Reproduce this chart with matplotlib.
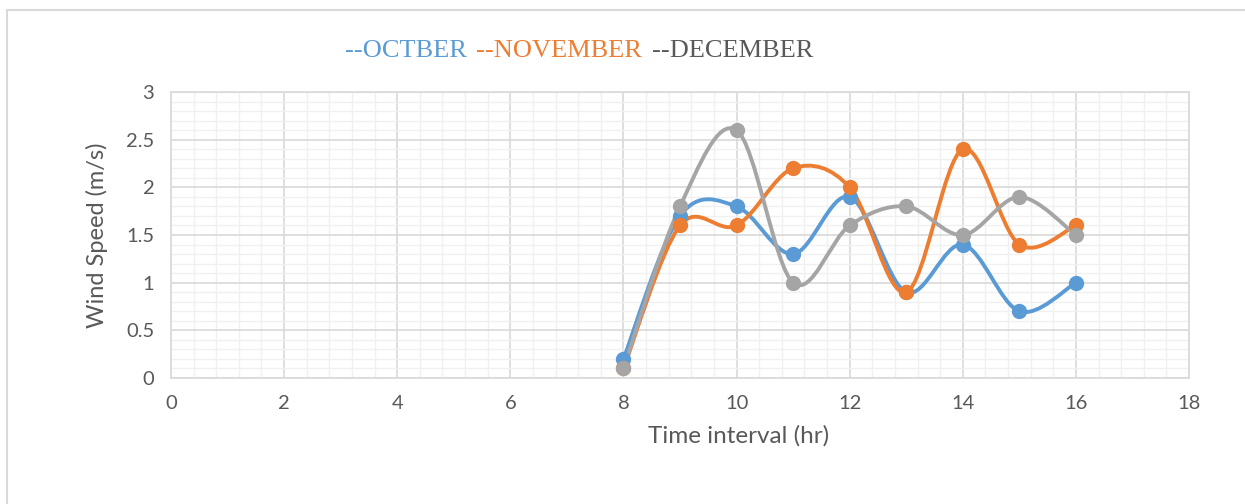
import matplotlib.pyplot as plt
import matplotlib.patches as mpatches
from matplotlib.path import Path
from matplotlib.ticker import MultipleLocator

hours = [8, 9, 10, 11, 12, 13, 14, 15, 16]
october = [0.2, 1.7, 1.8, 1.3, 1.9, 0.9, 1.4, 0.7, 1.0]
november = [0.1, 1.6, 1.6, 2.2, 2.0, 0.9, 2.4, 1.4, 1.6]
december = [0.1, 1.8, 2.6, 1.0, 1.6, 1.8, 1.5, 1.9, 1.5]

series = [
    ("--OCTBER ", october, "#5b9bd5", "#5b9bd5"),
    ("--NOVEMBER ", november, "#ed7d31", "#ed7d31"),
    ("--DECEMBER", december, "#a5a5a5", "#595959"),
]


def smooth_path(xs, ys):
    # Excel-like smoothed line: cubic Bezier segments, Catmull-Rom tangents
    verts = [(xs[0], ys[0])]
    codes = [Path.MOVETO]
    n = len(xs)
    for i in range(n - 1):
        x0, y0 = xs[max(i - 1, 0)], ys[max(i - 1, 0)]
        x1, y1 = xs[i], ys[i]
        x2, y2 = xs[i + 1], ys[i + 1]
        x3, y3 = xs[min(i + 2, n - 1)], ys[min(i + 2, n - 1)]
        c1 = (x1 + (x2 - x0) / 6, y1 + (y2 - y0) / 6)
        c2 = (x2 - (x3 - x1) / 6, y2 - (y3 - y1) / 6)
        verts += [c1, c2, (x2, y2)]
        codes += [Path.CURVE4] * 3
    return Path(verts, codes)


fig = plt.figure(figsize=(12.45, 5.04), dpi=100)
ax = fig.add_axes([171 / 1245, 1 - 378 / 504, (1189 - 171) / 1245, (378 - 92) / 504])

# outer chart border
fig.patches.append(mpatches.Rectangle((7 / 1245, -0.1), 1.2, 1 - 10 / 504 + 0.1,
                                      transform=fig.transFigure, fill=False,
                                      edgecolor="#d9d9d9", linewidth=1.5))

for name, vals, color, _ in series:
    ax.add_patch(mpatches.PathPatch(smooth_path(hours, vals), facecolor="none",
                                    edgecolor=color, linewidth=2.8, zorder=3))
    ax.plot(hours, vals, linestyle="none", marker="o", markersize=10,
            color=color, zorder=4)

ax.set_xlim(0, 18)
ax.set_ylim(0, 3)
ax.xaxis.set_major_locator(MultipleLocator(2))
ax.xaxis.set_minor_locator(MultipleLocator(0.4))
ax.yaxis.set_minor_locator(MultipleLocator(0.1))
ax.set_yticks([0, 0.5, 1, 1.5, 2, 2.5, 3])
ax.set_yticklabels(["0", "0.5", "1", "1.5", "2", "2.5", "3"])
ax.grid(which="major", color="#d9d9d9", linewidth=1.2, zorder=1)
ax.grid(which="minor", color="#f0f0f0", linewidth=1.0, zorder=0)
ax.set_axisbelow(True)
for s in ax.spines.values():
    s.set_color("#d9d9d9")
    s.set_linewidth(1.2)
ax.tick_params(which="both", length=0, labelsize=14.5, labelcolor="#595959", pad=12)

ax.set_xlabel("Time interval (hr)", fontsize=17.5, color="#595959", family="Lato")
ax.set_ylabel("Wind Speed (m/s)", fontsize=17, color="#595959", family="Lato")
ax.xaxis.set_label_coords((739 - 171) / (1189 - 171), -0.165)
ax.yaxis.set_label_coords(-0.062, 0.5)
for lbl in ax.get_xticklabels() + ax.get_yticklabels():
    lbl.set_family("Lato")

# legend as coloured text
x = 345
for name, vals, color, text_color in series:
    t = fig.text(x / 1245, 1 - 51 / 504, name, color=text_color,
                 fontsize=19, family="Liberation Serif", va="center", ha="left")
    fig.canvas.draw()
    x = t.get_window_extent().x1 + 3

fig.savefig("out.png", dpi=100)
